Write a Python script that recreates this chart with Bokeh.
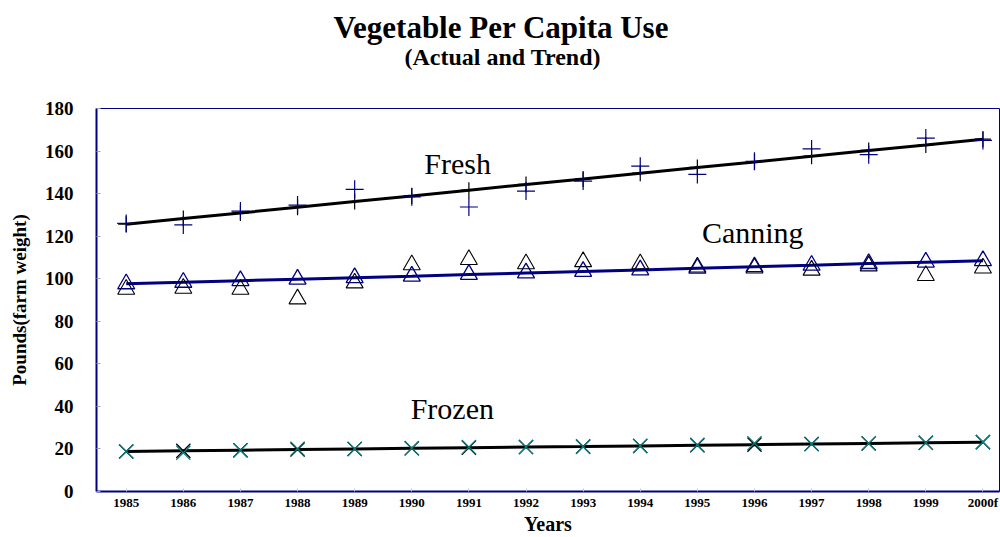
from bokeh.plotting import figure
from bokeh.models import Range1d, FixedTicker, Title
from bokeh.core.properties import value
from bokeh.embed import file_html
from bokeh.resources import INLINE

# ---------------- data ----------------
years = list(range(1985, 2001))
year_labels = ["1985", "1986", "1987", "1988", "1989", "1990", "1991", "1992",
               "1993", "1994", "1995", "1996", "1997", "1998", "1999", "2000f"]
y_ticks = [0, 20, 40, 60, 80, 100, 120, 140, 160, 180]

fresh_actual = [126.0, 125.3, 131.8, 134.6, 142.0, 138.5, 133.7, 141.2,
                145.9, 152.9, 149.0, 155.2, 161.0, 158.3, 166.1, 165.0]
fresh_trend = [125.6, 128.3, 130.9, 133.6, 136.3, 138.9, 141.6, 144.3,
               146.9, 149.6, 152.3, 154.9, 157.6, 160.3, 162.9, 165.6]

canning_actual = [95.0, 95.5, 95.0, 90.5, 98.0, 106.5, 109.0, 107.0,
                  108.0, 107.0, 105.5, 105.0, 104.0, 106.0, 101.5, 105.0]
canning_trend = [97.6, 98.3, 99.1, 99.8, 100.5, 101.2, 102.0, 102.7,
                 103.4, 104.1, 104.9, 105.6, 106.3, 107.1, 107.8, 108.5]

frozen_actual = [18.8, 18.2, 19.3, 20.1, 20.0, 20.3, 20.9, 20.9,
                 21.1, 21.4, 21.9, 22.7, 22.3, 22.6, 22.9, 23.2]
frozen_trend = [18.8, 19.1, 19.4, 19.7, 20.0, 20.3, 20.6, 20.9,
                21.1, 21.4, 21.7, 22.0, 22.3, 22.6, 22.9, 23.2]

series_names = ["Fresh", "Canning", "Frozen"]
name_x = [1990.22, 1995.08, 1989.98]
name_y = [154.0, 121.8, 39.0]

title_text = "Vegetable Per Capita Use"
subtitle_text = "(Actual and Trend)"
x_title = "Years"
y_title = "Pounds(farm weight)"

# ---------------- style ----------------
SERIF = "Liberation Serif"
NAVY = "#000080"
TEAL = "#008080"

p = figure(width=1000, height=537, title=None,
           x_range=Range1d(1984.48, 2000.29), y_range=Range1d(0, 180),
           output_backend="svg", toolbar_location=None,
           min_border_left=96, min_border_right=1,
           min_border_top=108, min_border_bottom=44)

p.grid.visible = False
p.background_fill_color = "white"
p.border_fill_color = "white"
p.outline_line_color = NAVY
p.outline_line_width = 1

# titles: first added sits closest to the frame
p.add_layout(Title(text=subtitle_text, align="left", offset=308,
                   text_font=SERIF, text_font_style="bold", text_font_size="24px",
                   text_color="black", standoff=77), "above")
p.add_layout(Title(text=title_text, align="left", offset=237,
                   text_font=SERIF, text_font_style="bold", text_font_size="31px",
                   text_color="black", standoff=-83), "above")

# x axis
p.xaxis.ticker = FixedTicker(ticks=years)
p.xaxis.major_label_overrides = {yr: lab for yr, lab in zip(years, year_labels)}
p.xaxis.major_label_text_font = SERIF
p.xaxis.major_label_text_font_style = "bold"
p.xaxis.major_label_text_font_size = "13px"
p.xaxis.major_label_text_color = "black"
p.xaxis.major_label_standoff = 3
p.xaxis.axis_line_color = NAVY
p.xaxis.axis_line_width = 2
p.xaxis.major_tick_in = 3
p.xaxis.major_tick_out = 0
p.xaxis.major_tick_line_color = "#c8c8d8"
p.xaxis.minor_tick_line_color = None
p.xaxis.axis_label = x_title
p.xaxis.axis_label_text_font = SERIF
p.xaxis.axis_label_text_font_style = "bold"
p.xaxis.axis_label_text_font_size = "20px"
p.xaxis.axis_label_text_color = "black"
p.xaxis.axis_label_standoff = 0

# y axis
p.yaxis.ticker = FixedTicker(ticks=y_ticks)
p.yaxis.major_label_text_font = SERIF
p.yaxis.major_label_text_font_style = "bold"
p.yaxis.major_label_text_font_size = "19px"
p.yaxis.major_label_text_color = "black"
p.yaxis.major_label_standoff = 23
p.yaxis.axis_line_color = NAVY
p.yaxis.axis_line_width = 2
p.yaxis.major_tick_in = 4
p.yaxis.major_tick_out = 0
p.yaxis.major_tick_line_color = "#a0a0b8"
p.yaxis.minor_tick_line_color = None
p.yaxis.axis_label = y_title
p.yaxis.axis_label_text_font = SERIF
p.yaxis.axis_label_text_font_style = "bold"
p.yaxis.axis_label_text_font_size = "19px"
p.yaxis.axis_label_text_color = "black"
p.yaxis.axis_label_standoff = 12

# ---------------- series ----------------
# Fresh
p.line(years, fresh_trend, line_color="black", line_width=3)
p.scatter(years, fresh_trend, marker="cross", size=16, line_color="black", line_width=1.2)
p.scatter(years, fresh_actual, marker="cross", size=18, line_color=NAVY, line_width=1.2)

# Canning
p.line(years, canning_trend, line_color=NAVY, line_width=3)
p.scatter(years, canning_actual, marker="triangle", size=17, fill_color=None,
          line_color="black", line_width=1.1)
p.scatter(years, canning_trend, marker="triangle", size=17, fill_color=None,
          line_color=NAVY, line_width=1.3)

# Frozen
p.line(years, frozen_trend, line_color="black", line_width=3)
p.scatter(years, frozen_trend, marker="x", size=20, line_color="black", line_width=1.3)
p.scatter(years, frozen_actual, marker="x", size=20, line_color=TEAL, line_width=1.3)

# series names
p.text(x=name_x, y=name_y, text=series_names,
       text_font=value(SERIF), text_font_size="30px", text_color="black",
       text_align="left", text_baseline="alphabetic")

open("out.html", "w").write(file_html(p, INLINE))
